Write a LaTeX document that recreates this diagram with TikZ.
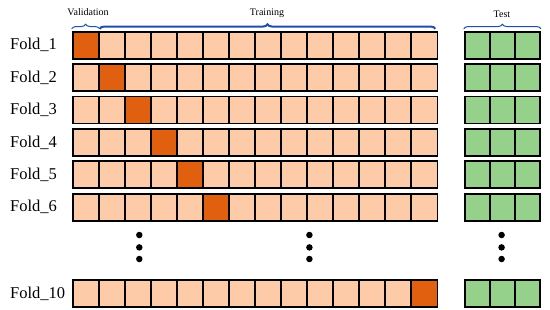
\documentclass[tikz,border=0pt]{standalone}
\usepackage{fontspec}
\setmainfont{Liberation Serif}
\usetikzlibrary{decorations.pathreplacing}
\definecolor{trainfill}{HTML}{FDCBA7}
\definecolor{valfill}{HTML}{E0600F}
\definecolor{testfill}{HTML}{95D18B}
\definecolor{bracecol}{HTML}{1F4FA8}

\begin{document}
\begin{tikzpicture}[
x=1pt, y=-1pt,
cell/.style={draw, line width=1.8pt, rectangle, minimum width=26.06pt, minimum height=27pt, inner sep=0pt, fill=trainfill},
valcell/.style={cell, fill=valfill},
testcell/.style={cell, fill=testfill, minimum width=25.1pt},
foldlabel/.style={anchor=west, inner sep=0pt, font=\fontsize{16.5}{18}\selectfont},
setlabel/.style={inner sep=0pt, font=\fontsize{10}{12}\selectfont},
setbrace/.style={draw=bracecol, line width=1pt, decorate, decoration={brace, amplitude=4.5pt}},
dot/.style={circle, fill=black, inner sep=0pt, minimum size=6.5pt}
]
\useasboundingbox (0,0) rectangle (550,309);

\foreach \f/\y/\v in {1/45.2/1, 2/77.6/2, 3/110/3, 4/142.4/4, 5/174.8/5, 6/207.2/6, 10/293.8/14} {
  \node[foldlabel] (fold\f) at (10,\y) {Fold\_\f};
  \foreach \c in {1,...,14} {
    \ifnum\c=\v \def\kind{valcell}\else\def\kind{cell}\fi
    \node[\kind] (c\f-\c) at ({72.6+26.06*(\c-0.5)},\y) {};
  }
  \foreach \c in {1,2,3}
    \node[testcell] (t\f-\c) at ({464.7+25.1*(\c-0.5)},\y) {};
}

\draw[setbrace] ([yshift=2pt]c1-1.north west) -- ([yshift=2pt]c1-1.north east);
\draw[setbrace, line width=2pt] ([xshift=2pt, yshift=2pt]c1-2.north west) -- ([xshift=-3pt, yshift=2pt]c1-14.north east);
\draw[setbrace] ([yshift=2pt]t1-1.north west) -- ([yshift=2pt]t1-3.north east);

\node[setlabel] (validation) at (88,12.5) {Validation};
\node[setlabel] (training) at (267,13.3) {Training};
\node[setlabel] (test) at (502,14) {Test};

\foreach \x [count=\i] in {139.3, 309.4, 501.6} {
  \node[dot] (dota\i) at (\x,235) {};
  \node[dot] (dotb\i) at (\x,247.4) {};
  \node[dot] (dotc\i) at (\x,259) {};
}

\end{tikzpicture}
\end{document}
